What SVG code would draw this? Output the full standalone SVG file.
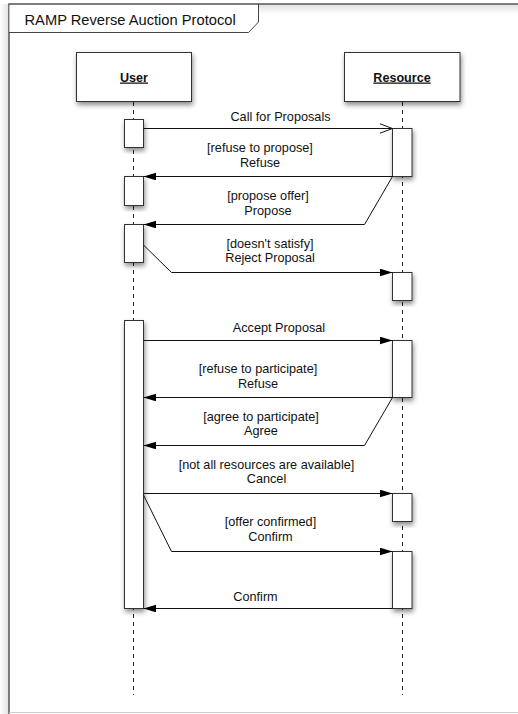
<svg xmlns="http://www.w3.org/2000/svg" width="518" height="714" viewBox="0 0 518 714">
<style>
  .frame { fill: none; stroke: #555; stroke-width: 1.5; }
  .tab { fill: none; stroke: #444; stroke-width: 1; }
  .title { font-family: "Liberation Sans", Arial, sans-serif; font-size: 14.7px; fill: #111; }
  .head { fill: #fff; stroke: #333; stroke-width: 1; filter: url(#shadow); }
  .hlabel { font-family: "Liberation Sans", Arial, sans-serif; font-size: 12.6px; font-weight: bold; text-decoration: underline; fill: #111; text-anchor: middle; }
  .life { stroke: #222; stroke-width: 1; stroke-dasharray: 4 4; fill: none; }
  .act { fill: #fff; stroke: #333; stroke-width: 1; filter: url(#shadow); }
  .msg { fill: none; stroke: #111; stroke-width: 1; }
  .lbl { font-family: "Liberation Sans", Arial, sans-serif; font-size: 12.7px; fill: #111; text-anchor: middle; }
</style>
<defs>
  <filter id="shadow" x="-50%" y="-20%" width="200%" height="140%">
    <feDropShadow dx="1" dy="3" stdDeviation="2.5" flood-color="#000" flood-opacity="0.45"/>
  </filter>
  <linearGradient id="topShade" x1="0" y1="0" x2="0" y2="1">
    <stop offset="0" stop-color="#000" stop-opacity="0.12"/>
    <stop offset="1" stop-color="#000" stop-opacity="0"/>
  </linearGradient>
  <linearGradient id="leftShade" x1="1" y1="0" x2="0" y2="0">
    <stop offset="0" stop-color="#000" stop-opacity="0.12"/>
    <stop offset="1" stop-color="#000" stop-opacity="0"/>
  </linearGradient>
  <marker id="filled" markerUnits="userSpaceOnUse" markerWidth="14" markerHeight="9" refX="12.7" refY="3.9" orient="auto">
    <path d="M0,0 L12.7,3.9 L0,7.8 z" fill="#000"/>
  </marker>
  <marker id="open" markerUnits="userSpaceOnUse" markerWidth="15" markerHeight="12" refX="13" refY="5.2" orient="auto">
    <path d="M0.5,0.5 L13,5.2 L0.5,9.9" fill="none" stroke="#111" stroke-width="1"/>
  </marker>
</defs>

<g id="frame">
  <rect x="0" y="0" width="518" height="714" fill="#fff"/>
  <rect x="0" y="4" width="9" height="710" fill="url(#leftShade)"/>
  <rect x="9" y="4.5" width="509" height="10" fill="url(#topShade)"/>
  <path class="frame" d="M9,714 V4 H518"/>
  <line x1="9" y1="712.5" x2="518" y2="712.5" stroke="#ccc" stroke-width="1"/>
  <path d="M9.5,5 H258 V32 H9.5 z" fill="#fff"/>
  <path class="tab" d="M9,32.5 H248.5 L258.5,22 V4"/>
  <text class="title" x="24.5" y="24.5">RAMP Reverse Auction Protocol</text>
</g>

<g id="lifeline-user">
  <line class="life" x1="133.5" y1="102" x2="133.5" y2="695"/>
  <rect class="head" x="76.5" y="52.5" width="115" height="49"/>
  <text class="hlabel" x="134" y="81.5">User</text>
</g>

<g id="lifeline-resource">
  <line class="life" x1="402.5" y1="102" x2="402.5" y2="695"/>
  <rect class="head" x="344.5" y="52.5" width="115.5" height="49"/>
  <text class="hlabel" x="402" y="81.5">Resource</text>
</g>

<g id="activations-user">
  <rect class="act" x="124.5" y="119.5" width="19" height="28"/>
  <rect class="act" x="124.5" y="176.5" width="19" height="29"/>
  <rect class="act" x="124.5" y="224.5" width="19" height="38"/>
  <rect class="act" x="124.5" y="320.5" width="19" height="288"/>
</g>

<g id="activations-resource">
  <rect class="act" x="392.5" y="128.5" width="19.5" height="48"/>
  <rect class="act" x="392.5" y="272.5" width="19.5" height="28"/>
  <rect class="act" x="392.5" y="340.5" width="19.5" height="57"/>
  <rect class="act" x="392.5" y="493.5" width="19.5" height="28"/>
  <rect class="act" x="392.5" y="551.5" width="19.5" height="57"/>
</g>

<g id="connectors">
  <g id="m1">
    <path class="msg" d="M143.5,128.5 H392.5" marker-end="url(#open)"/>
    <text class="lbl" x="280.5" y="120.5">Call for Proposals</text>
  </g>
  <g id="m2">
    <path class="msg" d="M392.5,176.5 H143.5" marker-end="url(#filled)"/>
    <text class="lbl" x="260" y="152">[refuse to propose]</text>
    <text class="lbl" x="260" y="166.5">Refuse</text>
  </g>
  <g id="m3">
    <path class="msg" d="M392.5,176.5 L364.5,224.5 H143.5" marker-end="url(#filled)"/>
    <text class="lbl" x="268" y="200">[propose offer]</text>
    <text class="lbl" x="268" y="214.5">Propose</text>
  </g>
  <g id="m4">
    <path class="msg" d="M143.5,245 L171.5,272.5 H392.5" marker-end="url(#filled)"/>
    <text class="lbl" x="270" y="247.5">[doesn't satisfy]</text>
    <text class="lbl" x="270" y="262">Reject Proposal</text>
  </g>
  <g id="m5">
    <path class="msg" d="M143.5,340.5 H392.5" marker-end="url(#filled)"/>
    <text class="lbl" x="279" y="331.5">Accept Proposal</text>
  </g>
  <g id="m6">
    <path class="msg" d="M392.5,397.5 H143.5" marker-end="url(#filled)"/>
    <text class="lbl" x="258" y="373">[refuse to participate]</text>
    <text class="lbl" x="258" y="387.5">Refuse</text>
  </g>
  <g id="m7">
    <path class="msg" d="M392.5,397.5 L364.5,445.5 H143.5" marker-end="url(#filled)"/>
    <text class="lbl" x="261" y="420.5">[agree to participate]</text>
    <text class="lbl" x="261" y="435">Agree</text>
  </g>
  <g id="m8">
    <path class="msg" d="M143.5,493.5 H392.5" marker-end="url(#filled)"/>
    <text class="lbl" x="266.5" y="468.5">[not all resources are available]</text>
    <text class="lbl" x="266.5" y="483">Cancel</text>
  </g>
  <g id="m9">
    <path class="msg" d="M143.5,495 L171.5,551.5 H392.5" marker-end="url(#filled)"/>
    <text class="lbl" x="270.5" y="526">[offer confirmed]</text>
    <text class="lbl" x="270.5" y="540.5">Confirm</text>
  </g>
  <g id="m10">
    <path class="msg" d="M392.5,608.5 H143.5" marker-end="url(#filled)"/>
    <text class="lbl" x="255.5" y="601">Confirm</text>
  </g>
</g>
</svg>
